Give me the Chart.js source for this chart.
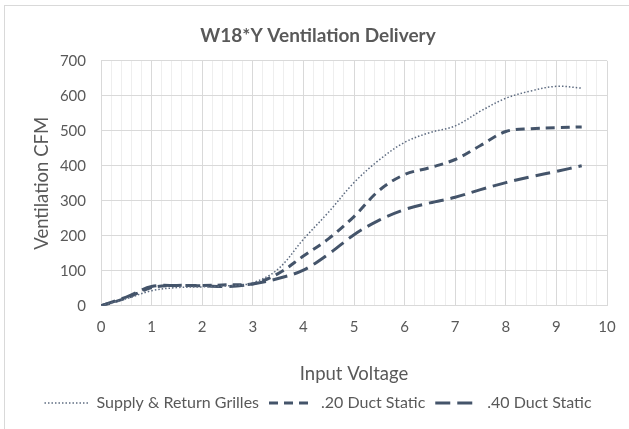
<!DOCTYPE html>
<html>
<head>
<meta charset="utf-8">
<script src="https://cdn.jsdelivr.net/npm/chart.js@4"></script>
<style>
  html, body { margin: 0; padding: 0; background: #fff; overflow: hidden; }
  #frame {
    position: absolute; left: 4px; top: 5px; width: 640px; height: 440px;
    border: 1px solid #d9d9d9; box-sizing: border-box;
  }
  #wrap { position: absolute; left: 0; top: 0; width: 629px; height: 429px; }
</style>
</head>
<body>
<div id="frame"></div>
<div id="wrap"><canvas id="myChart" width="629" height="429"></canvas></div>
<script>
  // input voltage readings, 0.5 V apart
  const voltage = [0, 0.5, 1, 1.5, 2, 2.5, 3, 3.5, 4, 4.5, 5, 5.5, 6, 6.5, 7, 7.5, 8, 8.5, 9, 9.5];

  // delivered air, CFM
  const supplyReturn = [0, 20, 43, 52, 54, 57, 66, 105, 190, 268, 352, 417, 467, 495, 514, 556, 593, 614, 627, 622];
  const duct20 = [0, 22, 52, 58, 58, 60, 63, 92, 142, 192, 255, 330, 375, 395, 418, 458, 498, 506, 509, 511];
  const duct40 = [0, 25, 55, 58, 57, 55, 62, 78, 102, 148, 203, 245, 275, 294, 310, 332, 352, 369, 384, 400];

  const seriesNames = ['Supply & Return Grilles', '.20 Duct Static', '.40 Duct Static'];
  const yTicks = [0, 100, 200, 300, 400, 500, 600, 700];
  const xTicks = [0, 1, 2, 3, 4, 5, 6, 7, 8, 9, 10];

  const lineColor = '#44546a';
  const textColor = '#595959';
  const fontFamily = 'Lato, "Open Sans", sans-serif';

  const pts = vals => vals.map((v, i) => ({ x: voltage[i], y: v }));
  const isMajor = v => Math.abs(v - Math.round(v)) < 1e-6;

  const ctx = document.getElementById('myChart');

  new Chart(ctx, {
    type: 'line',
    data: {
      datasets: [{
        label: seriesNames[0],
        data: pts(supplyReturn),
        borderColor: '#5d6b80',
        borderWidth: 1.5,
        borderDash: [1.5, 2],
        tension: 0.35
      }, {
        label: seriesNames[1],
        data: pts(duct20),
        borderColor: lineColor,
        borderWidth: 3,
        borderDash: [9, 6],
        tension: 0.35
      }, {
        label: seriesNames[2],
        data: pts(duct40),
        borderColor: lineColor,
        borderWidth: 3,
        borderDash: [15, 7],
        tension: 0.35
      }]
    },
    options: {
      responsive: false,
      animation: false,
      elements: { point: { radius: 0 } },
      layout: { padding: { left: 29, right: 22, top: 24, bottom: 8 } },
      plugins: {
        title: {
          display: true,
          text: 'W18*Y Ventilation Delivery',
          color: textColor,
          font: { family: fontFamily, size: 19, weight: 'bold' },
          padding: { top: 0, bottom: 14 }
        },
        legend: {
          position: 'bottom',
          labels: {
            color: textColor,
            font: { family: fontFamily, size: 16 },
            usePointStyle: true,
            pointStyle: 'line',
            pointStyleWidth: 44,
            boxWidth: 44,
            padding: 10,
            generateLabels: chart => chart.data.datasets.map((ds, i) => ({
              text: ds.label,
              datasetIndex: i,
              pointStyle: 'line',
              strokeStyle: ds.borderColor,
              fillStyle: ds.borderColor,
              lineWidth: ds.borderWidth,
              lineDash: ds.borderDash,
              fontColor: textColor
            }))
          }
        },
        tooltip: { enabled: false }
      },
      scales: {
        x: {
          type: 'linear',
          min: xTicks[0],
          max: xTicks[xTicks.length - 1],
          afterBuildTicks: axis => {
            const t = [];
            for (let i = 0; i <= 50; i++) t.push({ value: i / 5 });
            axis.ticks = t;
          },
          ticks: {
            autoSkip: false,
            maxRotation: 0,
            padding: 12,
            color: textColor,
            font: { family: fontFamily, size: 15 },
            callback: v => isMajor(v) ? String(Math.round(v)) : ''
          },
          grid: {
            drawTicks: false,
            color: c => isMajor(c.tick.value) ? '#d9d9d9' : '#eeeeee'
          },
          border: { color: '#d9d9d9' },
          title: {
            display: true,
            text: 'Input Voltage',
            color: textColor,
            font: { family: fontFamily, size: 18.5 },
            padding: { top: 15, bottom: 0 }
          }
        },
        y: {
          min: yTicks[0],
          max: yTicks[yTicks.length - 1],
          afterBuildTicks: axis => { axis.ticks = yTicks.map(v => ({ value: v })); },
          afterFit: axis => { axis.width = 72; },
          ticks: {
            padding: 15,
            color: textColor,
            font: { family: fontFamily, size: 15 }
          },
          grid: { drawTicks: false, color: '#d9d9d9' },
          border: { display: false },
          title: {
            display: true,
            text: 'Ventilation CFM',
            color: textColor,
            font: { family: fontFamily, size: 18.5 },
            padding: { top: 2, bottom: 12 }
          }
        }
      }
    }
  });
</script>
</body>
</html>
